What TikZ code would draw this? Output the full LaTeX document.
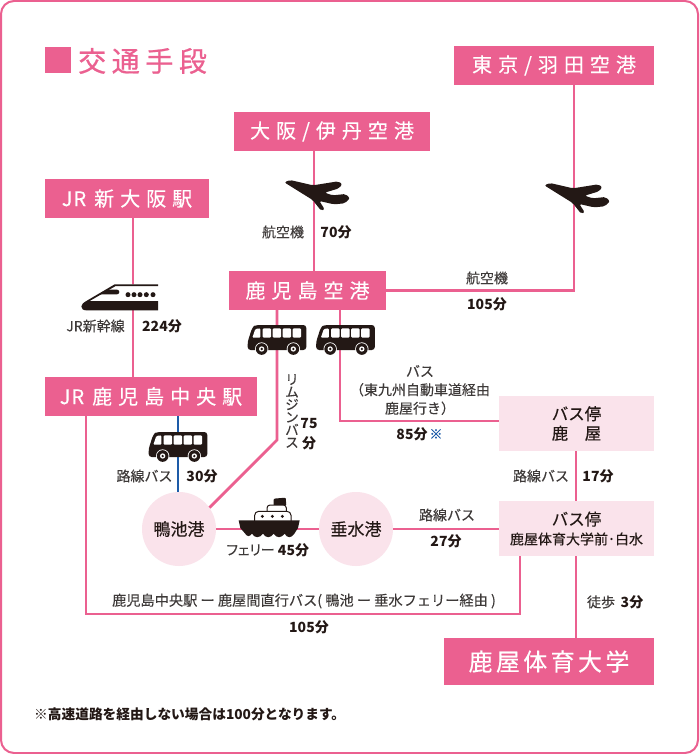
\documentclass[tikz,border=0pt]{standalone}
\usepackage{fontspec}
\setmainfont{Noto Sans CJK JP}[UprightFeatures={FakeBold=0.2}]
\newfontfamily\spaced[LetterSpace=30,FakeBold=0.3]{Noto Sans CJK JP}
\newcommand{\jrmark}{{\addfontfeature{LetterSpace=5}JR}\hspace{8pt}}
\definecolor{kpink}{HTML}{EB6090}
\definecolor{klight}{HTML}{FAE3EB}
\definecolor{kblack}{HTML}{231815}
\definecolor{ktext}{HTML}{3E3A39}
\definecolor{kblue}{HTML}{1D5BA8}
\tikzset{
  x=1pt,y=-1pt,
  titlebox/.style={fill=kpink,text=white,inner sep=0pt,font=\fontsize{20}{20}\spaced,anchor=center},
  softbox/.style={fill=klight,text=kblack,inner sep=0pt,align=center,anchor=center},
  portcircle/.style={circle,fill=klight,text=kblack,inner sep=0pt,minimum size=74pt,font=\fontsize{17}{17}\selectfont},
  route/.style={draw=kpink,line width=2.8pt},
  lbl/.style={text=ktext,inner sep=0pt,align=center,font=\fontsize{14}{18.5}\selectfont},
  tim/.style={text=kblack,inner sep=0pt,font=\fontsize{14}{16}\bfseries},
  planeicon/.pic={
    \begin{scope}[scale=1/3,shift={(-250,-81)}]
    \fill[kblack,rounded corners=2pt] (161,37) -- (178,30) -- (247,46) -- (322,34) -- (335,42) -- (325,55) -- (282,68) -- (306,76) -- (345,72) -- (358,85) -- (342,100) -- (310,103) -- (266,93) -- (282,118) -- (272,123) -- (246,90) -- cycle;
    \end{scope}},
  busicon/.pic={
    \begin{scope}[scale=1/3]
    \fill[kblack,rounded corners=3pt] (-88,30) -- (-88,5) -- (-74,-38) -- (-64,-45) -- (88,-45) -- (88,30) -- cycle;
    \fill[white,rounded corners=1pt] (-74,-7) -- (-65,-33) -- (-50,-35) -- (-50,-7) -- cycle;
    \foreach \wx in {-43,-13,17,47}{\fill[white,rounded corners=1pt] (\wx,-35) rectangle ++(25,28);}
    \foreach \wx in {-46,49}{
      \fill[white] (\wx,27) circle[radius=20];
      \fill[kblack] (\wx,27) circle[radius=17.5];
      \fill[white] (\wx,27) circle[radius=8];
      \fill[kblack] (\wx,27) circle[radius=4];}
    \end{scope}},
  trainicon/.pic={
    \begin{scope}[scale=1/3,shift={(-280,-80)}]
    \fill[white] (140,92) -- (225,42) -- (355,42) -- (355,92) -- cycle;
    \fill[kblack] (125,108) .. controls (126,100) and (132,97) .. (140,92) -- (225,42) -- (355,42) -- (355,47) -- (228,47) -- (150,92) -- (355,92) -- (355,120) -- (140,120) .. controls (130,120) and (125,115) .. (125,108) -- cycle;
    \fill[kblack] (178,72) -- (205,58) -- (232,58) arc[start angle=-90,end angle=90,radius=7] -- cycle;
    \foreach \dx in {265,283,301,320,340}{\fill[kblack] (\dx,73) circle[radius=7.5];}
    \end{scope}},
  shipicon/.pic={
    \begin{scope}[scale=1/3,shift={(-418,-145)}]
    \fill[kblack,rounded corners=1pt] (432,78) -- (432,57) -- (468,54) -- (470,78) -- cycle;
    \draw[kblack,fill=white,line width=1pt,rounded corners=3pt] (412,98) -- (412,76) -- (470,76) -- (470,98);
    \draw[kblack,fill=white,line width=1pt,rounded corners=4pt] (375,125) -- (375,95) -- (484,95) -- (484,125);
    \foreach \dx in {398,428,458}{\fill[kblack] (\dx,110) circle[radius=5];}
    \fill[kblack] (327,122) -- (510,122) -- (505,145) -- (494,162) .. controls (485,176) and (472,176) .. (465,162) .. controls (455,176) and (440,176) .. (432,162) .. controls (423,176) and (408,176) .. (400,162) .. controls (390,176) and (375,176) .. (367,162) .. controls (360,172) and (352,172) .. (345,160) -- (332,145) -- cycle;
    \end{scope}},
}
\begin{document}
\begin{tikzpicture}
\useasboundingbox (0,0) rectangle (699,754);
\fill[white] (0,0) rectangle (699,754);
\draw[kpink,line width=2pt,rounded corners=13pt] (1,1) rectangle (698,753);

% title
\node[fill=kpink,minimum size=26pt,inner sep=0pt] (sq) at (58,60.5) {};
\node[text=kpink,inner sep=0pt,anchor=west,font=\fontsize{28}{28}\spaced\addfontfeature{LetterSpace=20,FakeBold=0.7}] (head) at (78,61) {交通手段};

% boxes
\node[titlebox,minimum width=200pt,minimum height=39pt] (haneda) at (554,65.5) {東京\hspace{6pt}/\hspace{6pt}羽田空港};
\node[titlebox,minimum width=196pt,minimum height=39pt] (itami) at (332,131.5) {大阪\hspace{6pt}/\hspace{6pt}伊丹空港};
\node[titlebox,minimum width=164pt,minimum height=39pt] (shinosaka) at (127,198.5) {\jrmark 新大阪駅};
\node[titlebox,minimum width=157pt,minimum height=39pt] (airport) at (307.5,290.5) {鹿児島空港};
\node[titlebox,minimum width=212pt,minimum height=39pt] (chuo) at (151,396.5) {\jrmark 鹿児島中央駅};
\node[softbox,minimum width=155pt,minimum height=55pt,font=\fontsize{16.5}{19.5}\selectfont] (stopa) at (576.5,423.5) {バス停\\鹿　屋};
\node[softbox,minimum width=155pt,minimum height=55pt,font=\fontsize{16.5}{20}\selectfont] (stopb) at (576.5,528.5) {バス停\\[-1pt]{\fontsize{14}{17}\selectfont 鹿屋体育大学前･白水}};
\node[titlebox,minimum width=210pt,minimum height=47pt,font=\fontsize{24}{24}\spaced\addfontfeature{LetterSpace=14}] (nifs) at (549,661.5) {鹿屋体育大学};
\node[portcircle] (kamo) at (179,529) {鴨池港};
\node[portcircle] (taru) at (356,529) {垂水港};

% routing coordinates
\coordinate (ptokyo) at (574,200);
\coordinate (pitami) at (314,197);
\coordinate (tshin) at (133,297);
\coordinate (blimo) at (277,340);
\coordinate (bdir) at (340,340);
\coordinate (kbus) at (178,447);
\coordinate (lbend) at (277,440);
\coordinate (dbend) at (340,421);
\coordinate (dl) at (86,614);
\coordinate (dr) at (520,614);
\coordinate (walk) at (576,600);
\coordinate (ship) at (269,528);

% connectors
\draw[route] (ptokyo |- haneda.south) -- (ptokyo |- airport.east) -- (airport.east);
\draw[route] (pitami |- itami.south) -- (pitami |- airport.north);
\draw[route] (tshin |- shinosaka.south) -- (tshin |- chuo.north);
\draw[route] (blimo |- airport.south) -- (lbend) -- (kamo.35);
\draw[route] (bdir |- airport.south) -- (dbend) -- (dbend -| stopa.west);
\draw[draw=kblue,line width=2.8pt] (kbus |- chuo.south) -- (kbus |- kamo.north);
\draw[route] (kamo.east) -- (taru.west);
\draw[route] (taru.east) -- (stopb.west |- taru.east);
\draw[route] (walk |- stopa.south) -- (walk |- stopb.north);
\draw[route] (walk |- stopb.south) -- (walk |- nifs.north);
\draw[route] (dl |- chuo.south) -- (dl) -- (dr) -- (dr |- stopb.south);

% icons
\pic at (ptokyo) {planeicon};
\pic at (pitami) {planeicon};
\pic at (tshin) {trainicon};
\pic at (blimo) {busicon};
\pic at (345.5,340) {busicon};
\pic at (kbus) {busicon};
\pic at (ship) {shipicon};

% labels
\node[lbl] (l1) at (283,232) {航空機};
\node[tim] (t1) at (336,232) {70分};
\node[lbl] (l2) at (487,278) {航空機};
\node[tim] (t2) at (487,304) {105分};
\node[lbl] (l3) at (95.5,326) {JR新幹線};
\node[tim] (t3) at (162,326) {224分};
\node[lbl,font=\fontsize{13.5}{12.6}\selectfont] (l4) at (292,411) {リ\\ム\\ジ\\ン\\バ\\ス};
\node[tim] (t4a) at (309,424) {75};
\node[tim] (t4b) at (309,443) {分};
\node[lbl] (l5) at (420,390) {バス\\（東九州自動車道経由\\鹿屋行き）};
\node[tim] (t5) at (412,434) {85分};
\node[text=kblue,inner sep=0pt,font=\fontsize{13}{13}\selectfont] (star) at (436,434) {※};
\node[lbl] (l6) at (541,476) {路線バス};
\node[tim] (t6) at (598,476) {17分};
\node[lbl] (l7) at (447,515) {路線バス};
\node[tim] (t7) at (446,541) {27分};
\node[lbl] (l8) at (144.5,476) {路線バス};
\node[tim] (t8) at (202,476) {30分};
\node[lbl,font=\fontsize{14}{16}\selectfont\addfontfeature{RawFeature=+palt}] (l9) at (250.5,550) {フェリー};
\node[tim] (t9) at (293.5,550) {45分};
\node[lbl,font=\fontsize{14.2}{16}\selectfont] (l10) at (304,601) {鹿児島中央駅 ー 鹿屋間直行バス( 鴨池 ー 垂水フェリー経由 )};
\node[tim] (t10) at (309,627) {105分};
\node[lbl] (l11) at (601,602) {徒歩};
\node[tim] (t11) at (632,602) {3分};
\node[text=kblack,inner sep=0pt,anchor=west,font=\fontsize{13.7}{16}\bfseries] (foot) at (34,714) {※高速道路を経由しない場合は100分となります。};
\end{tikzpicture}
\end{document}
